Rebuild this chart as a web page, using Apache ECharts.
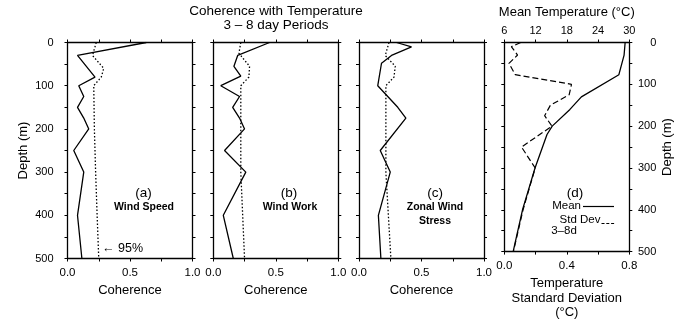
<!DOCTYPE html>
<html>
<head>
<meta charset="utf-8">
<script src="https://cdn.jsdelivr.net/npm/echarts@6/dist/echarts.min.js"></script>
<style>html,body{margin:0;padding:0;background:#fff}#c{width:689px;height:325px}</style>
</head>
<body>
<div id="c"></div>
<script>
// ---------------- data ----------------
// Panel (a) Wind Speed coherence
const depthA = [0, 30, 80, 100, 125, 150, 175, 200, 250, 300, 400, 500];
const windSpeed = [0.63, 0.08, 0.22, 0.09, 0.13, 0.08, 0.13, 0.17, 0.05, 0.13, 0.08, 0.115];
const depth95A = [0, 30, 60, 80, 100, 200, 300, 400, 500];
const sig95A = [0.23, 0.2, 0.29, 0.27, 0.21, 0.215, 0.225, 0.237, 0.25];
// Panel (b) Wind Work coherence
const depthB = [0, 30, 55, 78, 100, 125, 150, 175, 200, 250, 300, 400, 500];
const windWork = [0.45, 0.195, 0.165, 0.22, 0.06, 0.21, 0.155, 0.21, 0.25, 0.09, 0.26, 0.08, 0.16];
const depth95B = [0, 25, 55, 80, 100, 300, 400, 500];
const sig95B = [0.22, 0.205, 0.29, 0.285, 0.22, 0.22, 0.235, 0.25];
// Panel (c) Zonal Wind Stress coherence
const depthC = [0, 10, 30, 48, 100, 125, 150, 175, 250, 300, 400, 500];
const zonalStress = [0.3, 0.42, 0.26, 0.18, 0.15, 0.23, 0.31, 0.375, 0.17, 0.25, 0.155, 0.175];
const depth95C = [0, 30, 55, 80, 100, 300, 400, 500];
const sig95C = [0.24, 0.21, 0.29, 0.28, 0.215, 0.215, 0.235, 0.255];
// Panel (d) Mean temperature (top axis) and 3-8 d std dev (bottom axis)
const depthMean = [0, 30, 77, 130, 160, 200, 220, 300, 350, 400, 450, 500];
const meanTemp = [29.2, 29.0, 28.0, 20.8, 18.6, 15.2, 14.2, 11.9, 10.7, 9.5, 8.6, 7.7];
const depthStd = [0, 10, 30, 50, 77, 100, 125, 150, 175, 200, 250, 300, 400, 500];
const stdDev = [0.105, 0.045, 0.085, 0.03, 0.07, 0.43, 0.415, 0.295, 0.258, 0.305, 0.11, 0.198, 0.12, 0.058];
// axis ranges / ticks
const depthRange = [0, 500], depthStep = 50;
const cohRange = [0, 1], cohStep = 0.25;
const sdRange = [0, 0.8], sdStep = 0.2;
const tempRange = [6, 30], tempStep = 6;
const panelNotes = [['(a)', 'Wind Speed'], ['(b)', 'Wind Work'], ['(c)', 'Zonal Wind\nStress'], ['(d)', '']];

// ---------------- layout ----------------
const FONT = '"Liberation Sans", Arial, Helvetica, sans-serif';
const lefts = [67.5, 213.3, 359, 504.3];
const PW = 125, TOP = 42.5, PH = 216;
const pairs = (ys, xs) => xs.map((x, i) => [x, ys[i]]);

const lineAx = {show: true, onZero: false, lineStyle: {color: '#000', width: 1.3}};
const tickAx = {show: true, inside: false, length: 3, lineStyle: {color: '#000', width: 1}};
const lbl = (extra) => Object.assign({color: '#000', fontSize: 11, fontFamily: FONT}, extra);

const grid = lefts.map(l => ({left: l, top: TOP, width: PW, height: PH, containLabel: false}));
const xAxis = [], yAxis = [];
lefts.forEach((l, i) => {
  const isD = i === 3;
  xAxis.push({
    gridIndex: i, type: 'value', position: 'bottom',
    min: isD ? sdRange[0] : cohRange[0], max: isD ? sdRange[1] : cohRange[1],
    interval: isD ? sdStep : cohStep,
    axisLine: lineAx, axisTick: tickAx, splitLine: {show: false},
    axisLabel: lbl({margin: 8, fontSize: 11.5, formatter: v => {
      const m = isD ? 0.4 : 0.5;
      return Math.abs(v / m - Math.round(v / m)) < 1e-6 ? v.toFixed(1) : '';
    }}),
    name: isD ? 'Temperature\nStandard Deviation\n(°C)' : 'Coherence',
    nameLocation: 'middle', nameGap: 17,
    nameTextStyle: {color: '#000', fontSize: 13, fontFamily: FONT, lineHeight: 14.5}
  });
  xAxis.push(isD ? {
    gridIndex: i, type: 'value', position: 'top',
    min: tempRange[0], max: tempRange[1], interval: tempStep,
    axisLine: lineAx, axisTick: tickAx, splitLine: {show: false},
    axisLabel: lbl({margin: 6}),
    name: 'Mean Temperature (°C)', nameLocation: 'middle', nameGap: 24,
    nameTextStyle: {color: '#000', fontSize: 13, fontFamily: FONT}
  } : {
    gridIndex: i, type: 'value', position: 'top',
    min: cohRange[0], max: cohRange[1], interval: cohStep,
    axisLine: lineAx, axisTick: tickAx, splitLine: {show: false},
    axisLabel: {show: false}
  });
  yAxis.push({
    gridIndex: i, type: 'value', position: 'left', inverse: true,
    min: depthRange[0], max: depthRange[1], interval: depthStep,
    axisLine: lineAx, axisTick: tickAx, splitLine: {show: false},
    axisLabel: i === 0 ? lbl({margin: 14, formatter: v => v % 100 === 0 ? String(v) : ''}) : {show: false},
    name: i === 0 ? 'Depth (m)' : '', nameLocation: 'middle', nameGap: 38, nameRotate: 90,
    nameTextStyle: {color: '#000', fontSize: 13, fontFamily: FONT}
  });
  yAxis.push({
    gridIndex: i, type: 'value', position: 'right', inverse: true,
    min: depthRange[0], max: depthRange[1], interval: depthStep,
    axisLine: lineAx, axisTick: tickAx, splitLine: {show: false},
    axisLabel: isD ? lbl({margin: 27, align: 'right', formatter: v => v % 100 === 0 ? String(v) : ''}) : {show: false},
    name: isD ? 'Depth (m)' : '', nameLocation: 'middle', nameGap: 32, nameRotate: 90,
    nameTextStyle: {color: '#000', fontSize: 13, fontFamily: FONT}
  });
});

const solid = {color: '#000', width: 1.3, type: 'solid'};
const dotted = {color: '#000', width: 1.3, type: [1.5, 2]};
const dashed = {color: '#000', width: 1.2, type: [6, 3]};
const mk = (name, xi, yi, data, ls) => ({
  name, type: 'line', xAxisIndex: xi, yAxisIndex: yi, data, showSymbol: false, symbol: 'none',
  lineStyle: ls, animation: false, silent: true, z: 3
});
const series = [
  mk('Wind Speed', 0, 0, pairs(depthA, windSpeed), solid),
  mk('95% A', 0, 0, pairs(depth95A, sig95A), dotted),
  mk('Wind Work', 2, 2, pairs(depthB, windWork), solid),
  mk('95% B', 2, 2, pairs(depth95B, sig95B), dotted),
  mk('Zonal Wind Stress', 4, 4, pairs(depthC, zonalStress), solid),
  mk('95% C', 4, 4, pairs(depth95C, sig95C), dotted),
  mk('Mean', 7, 6, pairs(depthMean, meanTemp), solid),
  mk('Std Dev', 6, 6, pairs(depthStd, stdDev), dashed)
];

const txt = (x, y, text, size, extra) => ({
  type: 'text', x, y, silent: true,
  style: Object.assign({text, fill: '#000', fontSize: size, fontFamily: FONT, fontWeight: 'normal',
    align: 'center', verticalAlign: 'middle'}, extra || {})
});
const graphic = [
  txt(276, 11, 'Coherence with Temperature', 13.5),
  txt(276, 25, '3 – 8 day Periods', 13.5),
  txt(143.5, 193, panelNotes[0][0], 13.5),
  txt(144, 207.5, panelNotes[0][1], 10.5, {fontWeight: 'bold'}),
  txt(289, 193, panelNotes[1][0], 13.5),
  txt(290, 207.5, panelNotes[1][1], 10.5, {fontWeight: 'bold'}),
  txt(435, 193, panelNotes[2][0], 13.5),
  txt(435, 214.5, panelNotes[2][1], 10.5, {fontWeight: 'bold', lineHeight: 14}),
  txt(575, 193, panelNotes[3][0], 13.5),
  txt(102, 248.5, '← 95%', 12.5, {align: 'left'}),
  txt(581, 206, 'Mean', 11.5, {align: 'right'}),
  txt(600.5, 220, 'Std Dev', 11.5, {align: 'right'}),
  txt(564, 231, '3–8d', 11.5),
  {type: 'line', silent: true, shape: {x1: 583, y1: 206.5, x2: 614, y2: 206.5}, style: {stroke: '#000', lineWidth: 1.2}},
  {type: 'line', silent: true, shape: {x1: 601.5, y1: 223.5, x2: 614.5, y2: 223.5}, style: {stroke: '#000', lineWidth: 1.2, lineDash: [3, 1.8]}}
];

const chart = echarts.init(document.getElementById('c'), null, {renderer: 'canvas'});
chart.setOption({
  animation: false,
  backgroundColor: '#fff',
  textStyle: {fontFamily: FONT},
  grid, xAxis, yAxis, series, graphic
});
</script>
</body>
</html>
